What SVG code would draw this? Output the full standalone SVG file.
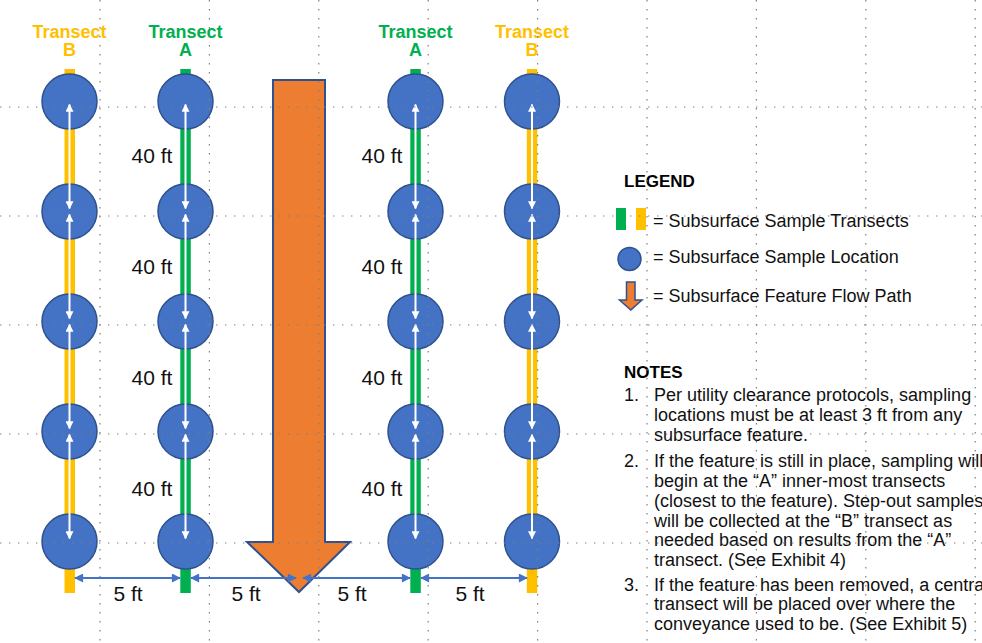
<svg xmlns="http://www.w3.org/2000/svg" width="982" height="643" viewBox="0 0 982 643">
<style>
.hdr{font-family:"Liberation Sans",Arial,sans-serif;font-weight:bold;font-size:18px;text-anchor:middle}
.y{fill:#FFC000}.g{fill:#00B050}
.bary{fill:#FFC000}.barg{fill:#00B050}
.pt{fill:#4472C4;stroke:#2F528F;stroke-width:1.5}
.wl{stroke:#fff;stroke-width:2;fill:none;marker-start:url(#wh);marker-end:url(#wh)}
.dl{stroke:#4472C4;stroke-width:2;fill:none;marker-start:url(#bh);marker-end:url(#bh)}
.lbl{font-family:"Liberation Sans",Arial,sans-serif;font-size:21px;fill:#111;text-anchor:middle}
.txt{font-family:"Liberation Sans",Arial,sans-serif;font-size:18px;fill:#111}
.bold{font-weight:bold;font-size:17px;fill:#000}
.flow{fill:#ED7D31;stroke:#2F528F;stroke-width:2}
.grid line{stroke:#7f7f7f;stroke-width:1.2;stroke-dasharray:1.4 7.6}
</style>
<defs>
<marker id="wh" viewBox="0 0 10 10" refX="9" refY="5" markerWidth="8" markerHeight="8" markerUnits="userSpaceOnUse" orient="auto-start-reverse"><path d="M0,0 L10,5 L0,10 z" fill="#fff"/></marker>
<marker id="bh" viewBox="0 0 10 10" refX="9" refY="5" markerWidth="10" markerHeight="9" markerUnits="userSpaceOnUse" orient="auto-start-reverse"><path d="M0,0 L10,5 L0,10 z" fill="#4472C4"/></marker>
</defs>
<rect width="982" height="643" fill="#fff"/>

<g id="headers">
<text class="hdr y" x="69.5" y="37.5">Transect<tspan x="69.5" dy="18">B</tspan></text>
<text class="hdr g" x="185.5" y="37.5">Transect<tspan x="185.5" dy="18">A</tspan></text>
<text class="hdr g" x="415.5" y="37.5">Transect<tspan x="415.5" dy="18">A</tspan></text>
<text class="hdr y" x="532" y="37.5">Transect<tspan x="532" dy="18">B</tspan></text>
</g>

<g id="transects">
<rect id="transect-b-left" class="bary" x="64.5" y="69" width="10.5" height="524"/>
<rect id="transect-a-left" class="barg" x="180.3" y="69" width="10.5" height="524"/>
<rect id="transect-a-right" class="barg" x="410.3" y="69" width="10.5" height="524"/>
<rect id="transect-b-right" class="bary" x="526.8" y="69" width="10.5" height="524"/>
</g>

<g id="flow-path">
<polygon class="flow" points="273,80 325,80 325,542 350,542 299,592 247,542 273,542"/>
</g>

<g id="samples">
<g id="s-b1-1"><circle class="pt" cx="69.5" cy="101.5" r="27.5"/></g>
<g id="s-b1-2"><circle class="pt" cx="69.5" cy="211.5" r="27.5"/></g>
<g id="s-b1-3"><circle class="pt" cx="69.5" cy="321.5" r="27.5"/></g>
<g id="s-b1-4"><circle class="pt" cx="69.5" cy="431.5" r="27.5"/></g>
<g id="s-b1-5"><circle class="pt" cx="69.5" cy="541.5" r="27.5"/></g>
<g id="s-a1-1"><circle class="pt" cx="185.5" cy="101.5" r="27.5"/></g>
<g id="s-a1-2"><circle class="pt" cx="185.5" cy="211.5" r="27.5"/></g>
<g id="s-a1-3"><circle class="pt" cx="185.5" cy="321.5" r="27.5"/></g>
<g id="s-a1-4"><circle class="pt" cx="185.5" cy="431.5" r="27.5"/></g>
<g id="s-a1-5"><circle class="pt" cx="185.5" cy="541.5" r="27.5"/></g>
<g id="s-a2-1"><circle class="pt" cx="415.5" cy="101.5" r="27.5"/></g>
<g id="s-a2-2"><circle class="pt" cx="415.5" cy="211.5" r="27.5"/></g>
<g id="s-a2-3"><circle class="pt" cx="415.5" cy="321.5" r="27.5"/></g>
<g id="s-a2-4"><circle class="pt" cx="415.5" cy="431.5" r="27.5"/></g>
<g id="s-a2-5"><circle class="pt" cx="415.5" cy="541.5" r="27.5"/></g>
<g id="s-b2-1"><circle class="pt" cx="532" cy="101.5" r="27.5"/></g>
<g id="s-b2-2"><circle class="pt" cx="532" cy="211.5" r="27.5"/></g>
<g id="s-b2-3"><circle class="pt" cx="532" cy="321.5" r="27.5"/></g>
<g id="s-b2-4"><circle class="pt" cx="532" cy="431.5" r="27.5"/></g>
<g id="s-b2-5"><circle class="pt" cx="532" cy="541.5" r="27.5"/></g>
</g>

<g id="connectors">
<line class="wl" x1="69.5" y1="104.5" x2="69.5" y2="208.5"/>
<line class="wl" x1="69.5" y1="214.5" x2="69.5" y2="318.5"/>
<line class="wl" x1="69.5" y1="324.5" x2="69.5" y2="428.5"/>
<line class="wl" x1="69.5" y1="434.5" x2="69.5" y2="538.5"/>
<line class="wl" x1="185.5" y1="104.5" x2="185.5" y2="208.5"/>
<line class="wl" x1="185.5" y1="214.5" x2="185.5" y2="318.5"/>
<line class="wl" x1="185.5" y1="324.5" x2="185.5" y2="428.5"/>
<line class="wl" x1="185.5" y1="434.5" x2="185.5" y2="538.5"/>
<line class="wl" x1="415.5" y1="104.5" x2="415.5" y2="208.5"/>
<line class="wl" x1="415.5" y1="214.5" x2="415.5" y2="318.5"/>
<line class="wl" x1="415.5" y1="324.5" x2="415.5" y2="428.5"/>
<line class="wl" x1="415.5" y1="434.5" x2="415.5" y2="538.5"/>
<line class="wl" x1="532" y1="104.5" x2="532" y2="208.5"/>
<line class="wl" x1="532" y1="214.5" x2="532" y2="318.5"/>
<line class="wl" x1="532" y1="324.5" x2="532" y2="428.5"/>
<line class="wl" x1="532" y1="434.5" x2="532" y2="538.5"/>
<line class="dl" x1="75" y1="578" x2="180" y2="578"/>
<line class="dl" x1="191" y1="578" x2="296" y2="578"/>
<line class="dl" x1="303" y1="578" x2="410" y2="578"/>
<line class="dl" x1="421" y1="578" x2="527" y2="578"/>
</g>

<g id="labels">
<text class="lbl" x="152" y="163">40 ft</text>
<text class="lbl" x="152" y="274">40 ft</text>
<text class="lbl" x="152" y="385">40 ft</text>
<text class="lbl" x="152" y="496">40 ft</text>
<text class="lbl" x="382" y="163">40 ft</text>
<text class="lbl" x="382" y="274">40 ft</text>
<text class="lbl" x="382" y="385">40 ft</text>
<text class="lbl" x="382" y="496">40 ft</text>
<text class="lbl" x="128" y="601">5 ft</text>
<text class="lbl" x="246" y="601">5 ft</text>
<text class="lbl" x="352" y="601">5 ft</text>
<text class="lbl" x="470" y="601">5 ft</text>
</g>

<g id="legend">
<text class="txt bold" x="624" y="187">LEGEND</text>
<rect class="barg" x="616" y="208" width="10" height="22"/>
<rect class="bary" x="636" y="208" width="10" height="22"/>
<text class="txt" x="653" y="227">= Subsurface Sample Transects</text>
<circle class="pt" cx="629.5" cy="259" r="11.5"/>
<text class="txt" x="653" y="263">= Subsurface Sample Location</text>
<polygon class="flow" style="stroke-width:1.5" points="626.5,282 635,282 635,300 642,300 630.8,310 619.5,300 626.5,300"/>
<text class="txt" x="653" y="302">= Subsurface Feature Flow Path</text>
</g>

<g id="notes">
<text class="txt bold" x="624" y="378">NOTES</text>
<text class="txt" x="624" y="401">1.</text>
<text class="txt" x="654" y="401">Per utility clearance protocols, sampling</text>
<text class="txt" x="654" y="421">locations must be at least 3 ft from any</text>
<text class="txt" x="654" y="441">subsurface feature.</text>
<text class="txt" x="624" y="467">2.</text>
<text class="txt" x="654" y="467">If the feature is still in place, sampling will</text>
<text class="txt" x="654" y="487">begin at the “A” inner-most transects</text>
<text class="txt" x="654" y="507">(closest to the feature). Step-out samples</text>
<text class="txt" x="654" y="527">will be collected at the “B” transect as</text>
<text class="txt" x="654" y="546">needed based on results from the “A”</text>
<text class="txt" x="654" y="566">transect. (See Exhibit 4)</text>
<text class="txt" x="624" y="591">3.</text>
<text class="txt" x="654" y="591">If the feature has been removed, a central</text>
<text class="txt" x="654" y="610">transect will be placed over where the</text>
<text class="txt" x="654" y="630">conveyance used to be. (See Exhibit 5)</text>
</g>

<g id="grid" class="grid">
<line x1="100" y1="0" x2="100" y2="643"/>
<line x1="209.4" y1="0" x2="209.4" y2="643"/>
<line x1="318.8" y1="0" x2="318.8" y2="643"/>
<line x1="428.2" y1="0" x2="428.2" y2="643"/>
<line x1="537.6" y1="0" x2="537.6" y2="643"/>
<line x1="647" y1="0" x2="647" y2="643"/>
<line x1="756.4" y1="0" x2="756.4" y2="643"/>
<line x1="865.8" y1="0" x2="865.8" y2="643"/>
<line x1="975.2" y1="0" x2="975.2" y2="643"/>
<line x1="0" y1="107" x2="982" y2="107"/>
<line x1="0" y1="216" x2="982" y2="216"/>
<line x1="0" y1="325" x2="982" y2="325"/>
<line x1="0" y1="434" x2="982" y2="434"/>
<line x1="0" y1="543" x2="982" y2="543"/>
</g>
</svg>
